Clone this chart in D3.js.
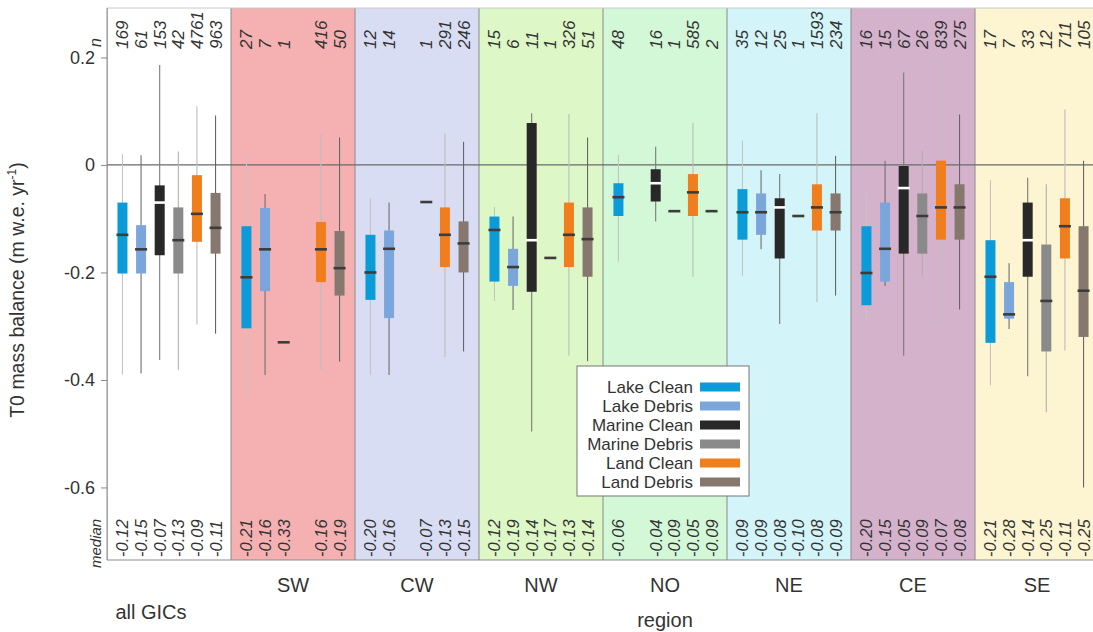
<!DOCTYPE html>
<html>
<head>
<meta charset="utf-8">
<script src="https://cdn.jsdelivr.net/npm/d3@7/dist/d3.min.js"></script>
<style>
  body { margin: 0; background: #fff; }
  svg { display: block; font-family: "Liberation Sans", Arial, sans-serif; }
</style>
</head>
<body>
<svg id="chart" width="1093" height="632"></svg>
<script>
// regions (first one is all glaciers together) and the six glacier types
const regions = ['all GICs', 'SW', 'CW', 'NW', 'NO', 'NE', 'CE', 'SE'];
const types = ['Lake Clean', 'Lake Debris', 'Marine Clean', 'Marine Debris', 'Land Clean', 'Land Debris'];

// sample sizes per region, one value per type (null = no glacier)
const nCounts = [
  [169, 61, 153, 42, 4761, 963],
  [27, 7, 1, null, 416, 50],
  [12, 14, null, 1, 291, 246],
  [15, 6, 11, 1, 326, 51],
  [48, null, 16, 1, 585, 2],
  [35, 12, 25, 1, 1593, 234],
  [16, 15, 67, 26, 839, 275],
  [17, 7, 33, 12, 711, 105]
];

// median labels printed at the bottom
const medianLabels = [
  ['-0.12', '-0.15', '-0.07', '-0.13', '-0.09', '-0.11'],
  ['-0.21', '-0.16', '-0.33', null, '-0.16', '-0.19'],
  ['-0.20', '-0.16', null, '-0.07', '-0.13', '-0.15'],
  ['-0.12', '-0.19', '-0.14', '-0.17', '-0.13', '-0.14'],
  ['-0.06', null, '-0.04', '-0.09', '-0.05', '-0.09'],
  ['-0.09', '-0.09', '-0.08', '-0.10', '-0.08', '-0.09'],
  ['-0.20', '-0.15', '-0.05', '-0.09', '-0.07', '-0.08'],
  ['-0.21', '-0.28', '-0.14', '-0.25', '-0.11', '-0.25']
];

// box statistics (null = not drawn)
const whiskerLow = [
  [-0.390, -0.388, -0.363, -0.381, -0.297, -0.314],
  [-0.434, -0.391, null, null, -0.381, -0.366],
  [-0.391, -0.391, null, null, -0.357, -0.347],
  [-0.253, -0.270, -0.496, null, -0.355, -0.365],
  [-0.180, null, -0.105, null, -0.208, null],
  [-0.207, -0.157, -0.296, null, -0.255, -0.243],
  [-0.293, -0.225, -0.355, -0.208, -0.300, -0.269],
  [-0.410, -0.305, -0.393, -0.460, -0.345, -0.600]
];
const q1 = [
  [-0.202, -0.202, -0.168, -0.202, -0.143, -0.165],
  [-0.304, -0.235, null, null, -0.218, -0.243],
  [-0.251, -0.285, null, null, -0.190, -0.200],
  [-0.217, -0.225, -0.236, null, -0.190, -0.208],
  [-0.095, null, -0.068, null, -0.095, null],
  [-0.139, -0.130, -0.174, null, -0.122, -0.122],
  [-0.261, -0.217, -0.165, -0.165, -0.139, -0.139],
  [-0.331, -0.286, -0.208, -0.347, -0.174, -0.320]
];
const medians = [
  [-0.130, -0.157, -0.070, -0.140, -0.091, -0.117],
  [-0.209, -0.157, -0.330, null, -0.157, -0.192],
  [-0.200, -0.156, null, -0.069, -0.130, -0.146],
  [-0.121, -0.190, -0.140, -0.173, -0.130, -0.138],
  [-0.060, null, -0.034, -0.086, -0.051, -0.086],
  [-0.088, -0.088, -0.079, -0.095, -0.079, -0.088],
  [-0.201, -0.156, -0.043, -0.095, -0.079, -0.079],
  [-0.208, -0.278, -0.140, -0.253, -0.114, -0.234]
];
const q3 = [
  [-0.070, -0.112, -0.038, -0.079, -0.019, -0.052],
  [-0.114, -0.080, null, null, -0.106, -0.123],
  [-0.130, -0.122, null, null, -0.079, -0.105],
  [-0.096, -0.156, 0.078, null, -0.070, -0.079],
  [-0.034, null, -0.008, null, -0.017, null],
  [-0.045, -0.053, -0.062, null, -0.036, -0.053],
  [-0.114, -0.070, -0.002, -0.053, 0.008, -0.036],
  [-0.140, -0.218, -0.070, -0.148, -0.062, -0.114]
];
const whiskerHigh = [
  [0.020, 0.018, 0.186, 0.025, 0.109, 0.092],
  [0.015, -0.054, null, null, 0.058, 0.051],
  [-0.062, -0.070, null, null, 0.059, 0.043],
  [-0.078, -0.096, 0.096, null, 0.095, 0.051],
  [0.019, null, 0.034, null, 0.078, null],
  [0.045, -0.010, -0.017, null, 0.096, 0.017],
  [-0.055, 0.008, 0.172, 0.026, 0.200, 0.094],
  [-0.028, -0.183, -0.024, -0.036, 0.103, 0.008]
];

const yTicks = [0.2, 0, -0.2, -0.4, -0.6];
const yTickLabels = ['0.2', '0', '-0.2', '-0.4', '-0.6'];

// styling
const typeColors = ['#0b9bd9', '#7ba6dc', '#282828', '#8a8a8a', '#f07e1c', '#86786f'];
const whiskerColors = ['#c4c4c4', '#707070', '#7a7a7a', '#b0b0b0', '#bdbdbd', '#666666'];
const bandColors = ['#ffffff', '#f5b1b1', '#d8ddf3', '#ddf8c6', '#d3f8d7', '#d3f4f8', '#d5b2cc', '#fdf4d1'];

const svg = d3.select('#chart');
const plot = { left: 107, top: 8, right: 1093, bottom: 560 };
const bandW = 124;

const xBand = d3.scaleBand()
  .domain(regions)
  .range([plot.left, plot.left + bandW * regions.length])
  .padding(0);

const xType = d3.scalePoint()
  .domain(types)
  .range([0, bandW])
  .padding(0.83);

const y = d3.scaleLinear()
  .domain([-0.735, 0.292])
  .range([plot.bottom, plot.top]);

// clip everything to the right edge of the picture
svg.append('clipPath').attr('id', 'clip')
  .append('rect')
  .attr('x', plot.left).attr('y', plot.top)
  .attr('width', plot.right - plot.left).attr('height', plot.bottom - plot.top);

const g = svg.append('g').attr('clip-path', 'url(#clip)');

// region backgrounds
g.selectAll('.band')
  .data(regions)
  .enter().append('rect')
  .attr('class', 'band')
  .attr('x', d => xBand(d))
  .attr('y', plot.top)
  .attr('width', xBand.bandwidth())
  .attr('height', plot.bottom - plot.top)
  .attr('fill', (d, i) => bandColors[i]);

// band separators
g.selectAll('.sep')
  .data(regions)
  .enter().append('line')
  .attr('x1', d => xBand(d)).attr('x2', d => xBand(d))
  .attr('y1', plot.top).attr('y2', plot.bottom)
  .attr('stroke', '#8a8a8a')
  .attr('stroke-width', 1);

// zero line
g.append('line')
  .attr('x1', plot.left).attr('x2', plot.right)
  .attr('y1', y(0)).attr('y2', y(0))
  .attr('stroke', '#6a6a6a')
  .attr('stroke-width', 1.3);

// flatten the per-region arrays into one record per box
const boxes = [];
regions.forEach((r, ri) => {
  types.forEach((t, ti) => {
    boxes.push({
      region: r, type: t, ri, ti,
      n: nCounts[ri][ti],
      lo: whiskerLow[ri][ti], q1: q1[ri][ti], med: medians[ri][ti],
      q3: q3[ri][ti], hi: whiskerHigh[ri][ti],
      label: medianLabels[ri][ti]
    });
  });
});

const cx = d => xBand(d.region) + xType(d.type);
const boxW = 10;

// whiskers
g.selectAll('.whisker')
  .data(boxes.filter(d => d.lo !== null))
  .enter().append('line')
  .attr('class', 'whisker')
  .attr('x1', cx).attr('x2', cx)
  .attr('y1', d => y(d.hi)).attr('y2', d => y(d.lo))
  .attr('stroke', d => whiskerColors[d.ti])
  .attr('stroke-width', 1.1);

// boxes
g.selectAll('.box')
  .data(boxes.filter(d => d.q1 !== null))
  .enter().append('rect')
  .attr('class', 'box')
  .attr('x', d => cx(d) - boxW / 2)
  .attr('y', d => y(d.q3))
  .attr('width', boxW)
  .attr('height', d => y(d.q1) - y(d.q3))
  .attr('fill', d => typeColors[d.ti]);

// medians (white gap on the black boxes)
g.selectAll('.median')
  .data(boxes.filter(d => d.med !== null))
  .enter().append('line')
  .attr('class', 'median')
  .attr('x1', d => cx(d) - (d.q1 === null ? 6 : boxW / 2 + 1))
  .attr('x2', d => cx(d) + (d.q1 === null ? 6 : boxW / 2 + 1))
  .attr('y1', d => y(d.med)).attr('y2', d => y(d.med))
  .attr('stroke', d => (d.ti === 2 && d.q1 !== null) ? '#ffffff' : '#3c3c3c')
  .attr('stroke-width', 2.6);

// n labels on top
g.selectAll('.nlab')
  .data(boxes.filter(d => d.n !== null))
  .enter().append('text')
  .attr('transform', d => `translate(${cx(d) + 6},49) rotate(-90)`)
  .attr('text-anchor', 'start')
  .attr('font-size', 17)
  .attr('font-style', 'italic')
  .attr('fill', '#333')
  .text(d => d.n);

// median labels at the bottom
g.selectAll('.mlab')
  .data(boxes.filter(d => d.label !== null))
  .enter().append('text')
  .attr('transform', d => `translate(${cx(d) + 6},557) rotate(-90)`)
  .attr('text-anchor', 'start')
  .attr('font-size', 16.5)
  .attr('font-style', 'italic')
  .attr('fill', '#333')
  .text(d => d.label);

// frame
svg.append('line')
  .attr('x1', plot.left).attr('x2', plot.right)
  .attr('y1', plot.top).attr('y2', plot.top)
  .attr('stroke', '#c8c8c8');
svg.append('line')
  .attr('x1', plot.left).attr('x2', plot.right)
  .attr('y1', plot.bottom).attr('y2', plot.bottom)
  .attr('stroke', '#8a8a8a');

// y axis
const yAxis = svg.append('g')
  .attr('transform', `translate(${plot.left},0)`)
  .call(d3.axisLeft(y)
    .tickValues(yTicks)
    .tickSize(6)
    .tickPadding(6)
    .tickFormat((d, i) => yTickLabels[i]));
yAxis.select('.domain')
  .attr('d', `M0,${plot.top}V${plot.bottom}`)
  .attr('stroke', '#8a8a8a');
yAxis.selectAll('.tick line').attr('stroke', '#8a8a8a');
yAxis.selectAll('.tick text')
  .attr('font-size', 18)
  .attr('font-family', '"Liberation Sans", Arial, sans-serif')
  .attr('fill', '#333');

// axis title
const title = svg.append('text')
  .attr('transform', `translate(24,290) rotate(-90)`)
  .attr('text-anchor', 'middle')
  .attr('font-size', 19.5)
  .attr('fill', '#333');
title.append('tspan').text('T0 mass balance (m w.e. yr');
title.append('tspan').attr('font-size', 12).attr('dy', -8).text('-1');
title.append('tspan').attr('dy', 8).text(')');

svg.append('text')
  .attr('transform', 'translate(101,47) rotate(-90)')
  .attr('font-size', 16).attr('font-style', 'italic').attr('fill', '#333')
  .text('n');
svg.append('text')
  .attr('transform', 'translate(101,568) rotate(-90)')
  .attr('font-size', 15).attr('font-style', 'italic').attr('fill', '#333')
  .text('median');

// region names under the plot
svg.selectAll('.rlab')
  .data(regions.slice(1))
  .enter().append('text')
  .attr('x', d => xBand(d) + bandW / 2)
  .attr('y', 592)
  .attr('text-anchor', 'middle')
  .attr('font-size', 20)
  .attr('fill', '#333')
  .text(d => d);

svg.append('text')
  .attr('x', xBand('all GICs') + 44).attr('y', 619)
  .attr('text-anchor', 'middle').attr('font-size', 20).attr('fill', '#333')
  .text('all GICs');
svg.append('text')
  .attr('x', 665).attr('y', 627)
  .attr('text-anchor', 'middle').attr('font-size', 20).attr('fill', '#333')
  .text('region');

// legend
const legend = svg.append('g').attr('transform', 'translate(577,366)');
legend.append('rect')
  .attr('width', 172).attr('height', 130)
  .attr('fill', '#fff')
  .attr('stroke', '#777');
const item = legend.selectAll('.legend-item')
  .data(types)
  .enter().append('g')
  .attr('class', 'legend-item')
  .attr('transform', (d, i) => `translate(0,${21 + i * 19})`);
item.append('text')
  .attr('x', 116)
  .attr('dy', '0.35em')
  .attr('text-anchor', 'end')
  .attr('font-size', 17)
  .attr('fill', '#333')
  .text(d => d);
item.append('rect')
  .attr('x', 123).attr('y', -4.5)
  .attr('width', 40).attr('height', 9)
  .attr('fill', (d, i) => typeColors[i]);
</script>
</body>
</html>
